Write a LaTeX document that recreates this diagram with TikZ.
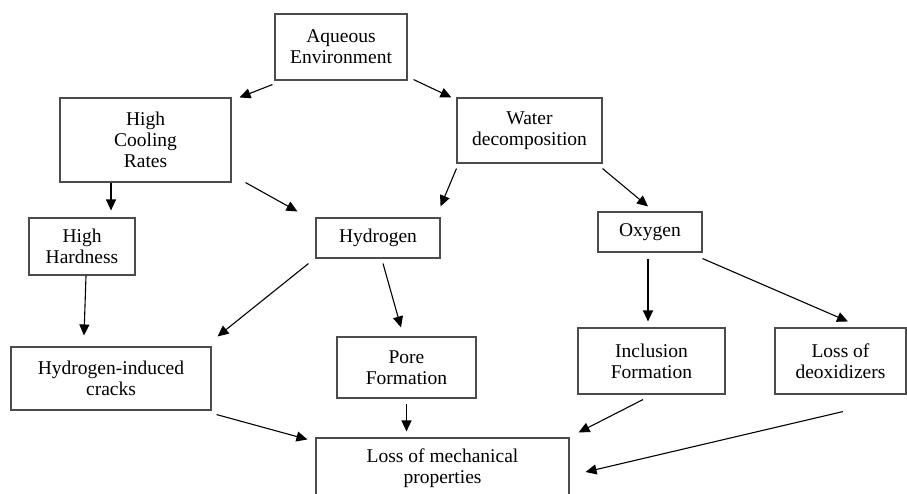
\documentclass[tikz,border=0pt]{standalone}
\usepackage{fontspec}
\setmainfont{Liberation Serif}
\usetikzlibrary{arrows.meta}
\tikzset{
  box/.style={draw=black!70, line width=1.1pt, inner sep=0pt, align=center,
    font=\fontsize{19.5}{21}\selectfont},
  arr/.style={line width=1.1pt, -{Triangle[length=11pt,width=10pt]}}
}
\begin{document}
\begin{tikzpicture}[x=1pt,y=-1pt]
\clip (0,0) rectangle (907,493);
\fill[white] (0,0) rectangle (907,493);

\node[box, minimum width=132pt, minimum height=66pt] (aq) at (341,47) {Aqueous\\Environment};
\node[box, minimum width=171pt, minimum height=84pt] (hcr) at (145.5,140) {High\\Cooling\\Rates};
\node[box, minimum width=145pt, minimum height=65pt] (wat) at (529.5,130.5) {Water\\decomposition};

\node[box, minimum width=106pt, minimum height=57pt] (hard) at (82,246.5) {High\\Hardness};
\node[box, minimum width=124pt, minimum height=40pt] (hyd) at (378,238) {Hydrogen};
\node[box, minimum width=104pt, minimum height=40pt] (oxy) at (650,232) {Oxygen};

\node[box, minimum width=200pt, minimum height=63pt] (hic) at (111,378.5) {Hydrogen-induced\\cracks};
\node[box, minimum width=139pt, minimum height=61pt] (pore) at (406.5,367.5) {Pore\\Formation};
\node[box, minimum width=147pt, minimum height=66pt] (incl) at (651.5,361) {Inclusion\\Formation};
\node[box, minimum width=131pt, minimum height=66pt] (deox) at (840.5,361) {Loss of\\deoxidizers};

\node[box, minimum width=253pt, minimum height=61pt] (loss) at (442.5,468.5) {Loss of mechanical\\properties};

% arrows
\draw[arr] ([shift={(-2,4)}]aq.south west) -- ([shift={(8,0)}]hcr.north east);
\draw[arr] ([shift={(6,-1)}]aq.south east) -- ([shift={(-5,0)}]wat.north west);
\draw[arr] ([shift={(-34.5,0)}]hcr.south) -- ([shift={(29,-7)}]hard.north);
\draw[arr] ([shift={(14,0)}]hcr.south east) -- ([shift={(-18,-6)}]hyd.north west);
\draw[arr] ([shift={(0,5)}]wat.south west) -- ([shift={(0,-11)}]hyd.north east);
\draw[arr] ([shift={(0,5)}]wat.south east) -- ([shift={(-2,-5)}]oxy.north);

\draw[arr] ([shift={(4,0)}]hard.south) -- ([shift={(-27,-11)}]hic.north);
\draw[arr] ([shift={(-7,5)}]hyd.south west) -- ([shift={(6,-10)}]hic.north east);
\draw[arr] ([shift={(5,5)}]hyd.south) -- ([shift={(-5.5,-9)}]pore.north);
\draw[arr] ([shift={(-2,6)}]oxy.south) -- ([shift={(-3.5,-6)}]incl.north);
\draw[arr] ([shift={(0,6)}]oxy.south east) -- ([shift={(7.5,-6)}]deox.north);

\draw[arr] ([shift={(5,4)}]hic.south east) -- ([shift={(-8,2)}]loss.north west);
\draw[arr] ([shift={(0,5)}]pore.south) -- ([shift={(0,-6)}]pore.south |- loss.north);
\draw[arr] ([shift={(-8.5,5)}]incl.south) -- ([shift={(9,-5)}]loss.north east);
\draw[arr] ([shift={(2.5,17)}]deox.south) -- ([shift={(16,3.5)}]loss.east);
\end{tikzpicture}
\end{document}
